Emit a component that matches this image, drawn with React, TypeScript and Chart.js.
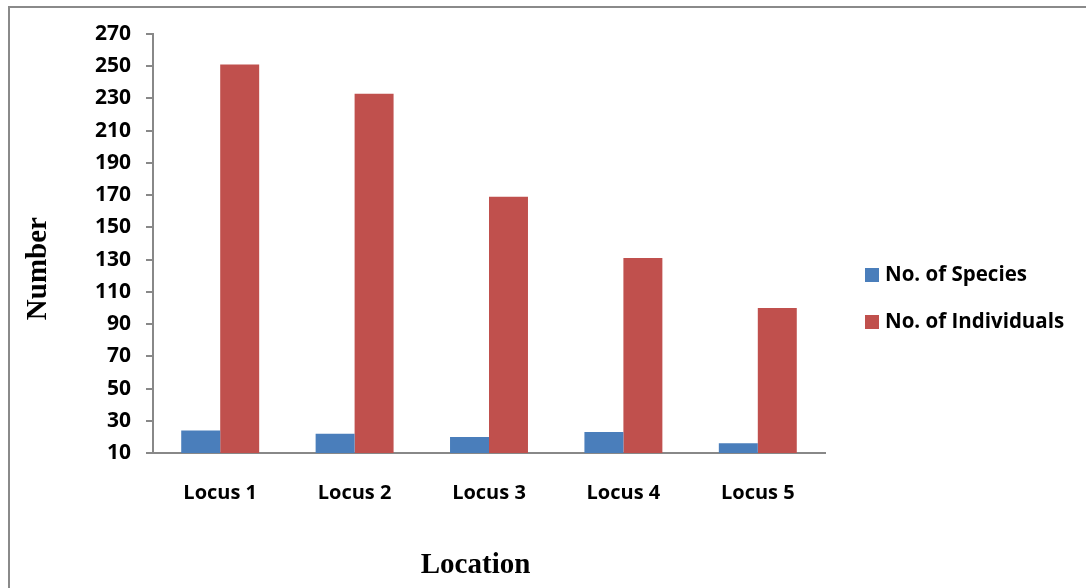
import React, { useEffect, useRef } from "react";
import { Chart, registerables } from "chart.js";

Chart.register(...registerables);

const categories = ["Locus 1", "Locus 2", "Locus 3", "Locus 4", "Locus 5"];
const speciesValues = [24, 22, 20, 23, 16];
const individualsValues = [251, 233, 169, 131, 100];
const seriesLabels = ["No. of Species", "No. of Individuals"];
const seriesColors = ["#4a7ebb", "#c0504d"];
const yTitle = "Number";
const xTitle = "Location";

const LABEL_FONT = "'Open Sans', Lato, sans-serif";
const TITLE_FONT = "'Liberation Serif', 'DejaVu Serif', serif";

const decorPlugin = {
  id: "decor",
  beforeDraw(chart: any) {
    const ctx = chart.ctx;
    ctx.save();
    ctx.fillStyle = "#ffffff";
    ctx.fillRect(0, 0, chart.width, chart.height);
    ctx.strokeStyle = "#8a8a8a";
    ctx.lineWidth = 2;
    ctx.beginPath();
    ctx.moveTo(9, chart.height);
    ctx.lineTo(9, 7);
    ctx.lineTo(chart.width, 7);
    ctx.stroke();
    ctx.restore();
  },
  afterDraw(chart: any) {
    const ctx = chart.ctx;
    const area = chart.chartArea;
    ctx.save();
    // axis titles
    ctx.fillStyle = "#000000";
    ctx.font = `bold 29px ${TITLE_FONT}`;
    ctx.textAlign = "center";
    ctx.textBaseline = "middle";
    ctx.fillText(xTitle, area.left + (area.right - area.left) * 0.48, area.bottom + 113);
    ctx.translate(39, area.top + (area.bottom - area.top) * 0.56);
    ctx.rotate(-Math.PI / 2);
    ctx.fillText(yTitle, 0, 0);
    ctx.restore();

    // legend
    ctx.save();
    ctx.font = `bold 20.5px ${LABEL_FONT}`;
    ctx.textAlign = "left";
    ctx.textBaseline = "middle";
    chart.data.datasets.forEach((ds: any, i: number) => {
      const cy = 275 + i * 47;
      ctx.fillStyle = ds.backgroundColor;
      ctx.fillRect(865, cy - 7, 14, 14);
      ctx.fillStyle = "#000000";
      ctx.fillText(ds.label, 885, cy);
    });
    ctx.restore();
  },
};

export default function App() {
  const canvasRef = useRef<HTMLCanvasElement | null>(null);

  useEffect(() => {
    if (!canvasRef.current) return;
    const chart = new Chart(canvasRef.current, {
      type: "bar",
      data: {
        labels: categories,
        datasets: [
          {
            label: seriesLabels[0],
            data: speciesValues,
            backgroundColor: seriesColors[0],
            categoryPercentage: 0.58,
            barPercentage: 1,
          },
          {
            label: seriesLabels[1],
            data: individualsValues,
            backgroundColor: seriesColors[1],
            categoryPercentage: 0.58,
            barPercentage: 1,
          },
        ],
      },
      options: {
        animation: false,
        responsive: false,
        maintainAspectRatio: false,
        devicePixelRatio: 1,
        layout: { padding: { left: 0, top: 34, right: 261, bottom: 0 } },
        plugins: {
          legend: { display: false },
          tooltip: { enabled: false },
          title: { display: false },
        },
        scales: {
          x: {
            grid: { display: false, drawTicks: false },
            border: { display: true, color: "#888888", width: 2 },
            ticks: {
              color: "#000000",
              padding: 28,
              font: { family: LABEL_FONT, size: 20, weight: "bold" },
            },
            afterFit(scale: any) {
              scale.height = 135;
            },
          },
          y: {
            min: 10,
            max: 270,
            grid: {
              display: true,
              drawOnChartArea: false,
              drawTicks: true,
              tickLength: 7,
              color: "#888888",
              lineWidth: 2,
            },
            border: { display: true, color: "#888888", width: 2 },
            ticks: {
              stepSize: 20,
              color: "#000000",
              padding: 15,
              font: { family: LABEL_FONT, size: 21, weight: "bold" },
            },
            afterFit(scale: any) {
              scale.width = 153;
            },
          },
        },
      },
      plugins: [decorPlugin],
    });
    return () => chart.destroy();
  }, []);

  return (
    <div style={{ position: "absolute", left: 0, top: 0, width: 1086, height: 588 }}>
      <canvas ref={canvasRef} width={1086} height={588} style={{ width: 1086, height: 588 }} />
    </div>
  );
}
